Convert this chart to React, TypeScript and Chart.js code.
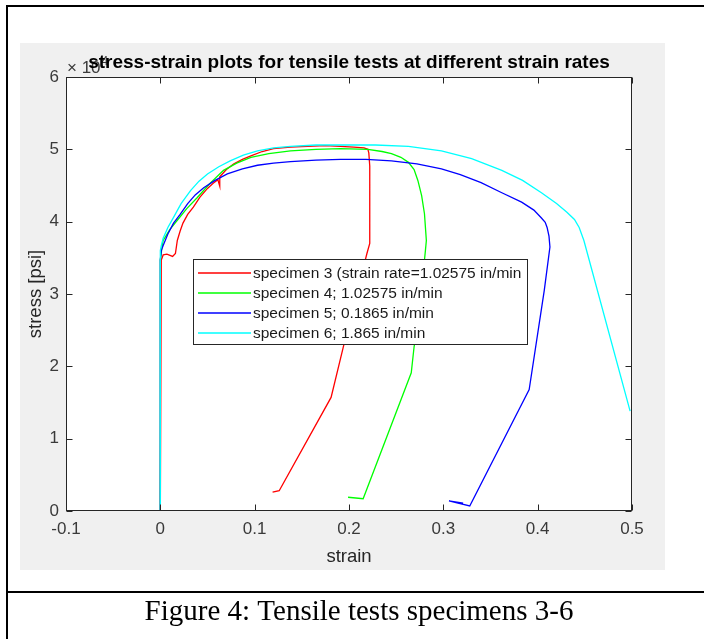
import React, { useEffect, useRef } from "react";
import { Chart, registerables } from "chart.js";
Chart.register(...registerables);

const W = 704;
const H = 639;

const chartTitle = "stress-strain plots for tensile tests at different strain rates";
const xAxisTitle = "strain";
const yAxisTitle = "stress [psi]";
const yExponentBase = "× 10";
const yExponent = "4";
const caption = "Figure 4: Tensile tests specimens 3-6";

const xTicks = [-0.1, 0, 0.1, 0.2, 0.3, 0.4, 0.5];
const xTickLabels = ["-0.1", "0", "0.1", "0.2", "0.3", "0.4", "0.5"];
const yTicks = [0, 1, 2, 3, 4, 5, 6];
const yTickLabels = ["0", "1", "2", "3", "4", "5", "6"];

const seriesLabels = [
  "specimen 3 (strain rate=1.02575 in/min",
  "specimen 4; 1.02575 in/min",
  "specimen 5; 0.1865 in/min",
  "specimen 6; 1.865 in/min",
];
const seriesColors = ["#ff0000", "#00ff00", "#0000ff", "#00ffff"];

// specimen 3
const strain3 = [0, 0.001, 0.003, 0.007, 0.013, 0.016, 0.018, 0.021, 0.024, 0.029, 0.035, 0.042, 0.050, 0.056, 0.061, 0.063, 0.063, 0.070, 0.078, 0.087, 0.096, 0.108, 0.120, 0.138, 0.156, 0.175, 0.191, 0.205, 0.216, 0.220, 0.221, 0.222, 0.222, 0.219, 0.194, 0.181, 0.126, 0.119];
const stress3 = [0, 3.47, 3.54, 3.55, 3.52, 3.56, 3.74, 3.87, 3.98, 4.10, 4.20, 4.34, 4.46, 4.53, 4.58, 4.49, 4.62, 4.72, 4.80, 4.86, 4.91, 4.97, 5.01, 5.03, 5.04, 5.05, 5.04, 5.03, 5.02, 5.00, 4.95, 4.77, 3.70, 3.56, 2.27, 1.57, 0.28, 0.26];

// specimen 4
const strain4 = [0, 0, 0.002, 0.003, 0.010, 0.018, 0.028, 0.039, 0.052, 0.067, 0.081, 0.096, 0.115, 0.138, 0.165, 0.191, 0.220, 0.235, 0.245, 0.255, 0.263, 0.269, 0.273, 0.277, 0.280, 0.282, 0.281, 0.280, 0.277, 0.269, 0.266, 0.215, 0.199];
const stress4 = [0, 3.47, 3.67, 3.74, 3.89, 4.02, 4.18, 4.33, 4.52, 4.71, 4.81, 4.89, 4.94, 4.98, 5.00, 5.01, 5.00, 4.97, 4.94, 4.89, 4.82, 4.72, 4.57, 4.36, 4.11, 3.74, 3.60, 3.47, 2.92, 2.27, 1.91, 0.17, 0.19];

// specimen 5
const strain5 = [0, 0, 0.001, 0.003, 0.008, 0.014, 0.021, 0.029, 0.037, 0.046, 0.058, 0.071, 0.087, 0.103, 0.120, 0.138, 0.165, 0.191, 0.218, 0.245, 0.272, 0.298, 0.318, 0.340, 0.362, 0.383, 0.396, 0.404, 0.408, 0.410, 0.412, 0.413, 0.407, 0.391, 0.328, 0.306, 0.321];
const stress5 = [0, 3.47, 3.60, 3.67, 3.83, 3.98, 4.10, 4.25, 4.37, 4.47, 4.57, 4.66, 4.73, 4.78, 4.81, 4.83, 4.85, 4.86, 4.86, 4.84, 4.80, 4.73, 4.65, 4.54, 4.40, 4.27, 4.16, 4.05, 3.99, 3.92, 3.80, 3.65, 3.05, 1.68, 0.07, 0.14, 0.11];

// specimen 6
const strain6 = [0, 0, 0.001, 0.003, 0.008, 0.014, 0.022, 0.032, 0.041, 0.050, 0.062, 0.074, 0.088, 0.103, 0.120, 0.138, 0.165, 0.191, 0.228, 0.263, 0.298, 0.330, 0.362, 0.384, 0.404, 0.420, 0.431, 0.439, 0.444, 0.449, 0.498];
const stress6 = [0, 3.60, 3.67, 3.77, 3.92, 4.06, 4.25, 4.43, 4.56, 4.66, 4.76, 4.84, 4.92, 4.98, 5.02, 5.04, 5.06, 5.06, 5.06, 5.04, 4.98, 4.87, 4.71, 4.57, 4.40, 4.25, 4.13, 4.03, 3.92, 3.74, 1.38];

const strainSeries = [strain3, strain4, strain5, strain6];
const stressSeries = [stress3, stress4, stress5, stress6];

const SANS = '"Liberation Sans", Arial, sans-serif';
const SERIF = '"Liberation Serif", "Times New Roman", serif';
const AXIS_COLOR = "#262626";
const TICK_COLOR = "#3a3a3a";

const framePlugin = {
  id: "framePlugin",
  beforeDraw(chart: any) {
    const ctx = chart.ctx as CanvasRenderingContext2D;
    const a = chart.chartArea;
    ctx.save();
    ctx.fillStyle = "#ffffff";
    ctx.fillRect(0, 0, W, H);
    // document frame
    ctx.fillStyle = "#000000";
    ctx.fillRect(6, 5, W - 6, 2);
    ctx.fillRect(6, 5, 2, H - 5);
    ctx.fillRect(6, 591, W - 6, 2);
    ctx.font = `29px ${SERIF}`;
    ctx.textAlign = "center";
    ctx.textBaseline = "alphabetic";
    ctx.fillText(caption, 359, 620);
    // figure background
    ctx.fillStyle = "#f0f0f0";
    ctx.fillRect(20, 43, 645, 527);
    ctx.fillStyle = "#ffffff";
    ctx.fillRect(a.left, a.top, a.right - a.left, a.bottom - a.top);
    ctx.restore();
  },
  afterDraw(chart: any) {
    const ctx = chart.ctx as CanvasRenderingContext2D;
    const a = chart.chartArea;
    const xs = chart.scales.x;
    const ys = chart.scales.y;
    ctx.save();
    // axes box
    const L = Math.round(a.left) + 0.5;
    const R = Math.round(a.right) - 0.5;
    const T = Math.round(a.top) + 0.5;
    const B = Math.round(a.bottom) - 0.5;
    ctx.strokeStyle = AXIS_COLOR;
    ctx.lineWidth = 1;
    ctx.strokeRect(L, T, R - L, B - T);
    // inner ticks
    const tl = 6;
    ctx.beginPath();
    for (const v of xTicks) {
      const px = Math.round(xs.getPixelForValue(v)) + 0.5;
      ctx.moveTo(px, B);
      ctx.lineTo(px, B - tl);
      ctx.moveTo(px, T);
      ctx.lineTo(px, T + tl);
    }
    for (const v of yTicks) {
      const py = Math.round(ys.getPixelForValue(v)) + 0.5;
      ctx.moveTo(L, py);
      ctx.lineTo(L + tl, py);
      ctx.moveTo(R, py);
      ctx.lineTo(R - tl, py);
    }
    ctx.stroke();

    // exponent label
    ctx.fillStyle = TICK_COLOR;
    ctx.font = `17px ${SANS}`;
    ctx.textAlign = "left";
    ctx.textBaseline = "alphabetic";
    ctx.fillText(yExponentBase, 67, 73);
    const bw = ctx.measureText(yExponentBase).width;
    ctx.font = `12px ${SANS}`;
    ctx.fillText(yExponent, 67 + bw + 1, 65);

    // title
    ctx.fillStyle = "#000000";
    ctx.font = `bold 19px ${SANS}`;
    ctx.textAlign = "center";
    ctx.fillText(chartTitle, (a.left + a.right) / 2, 68);

    // axis titles
    ctx.fillStyle = AXIS_COLOR;
    ctx.font = `18.5px ${SANS}`;
    ctx.fillText(xAxisTitle, (a.left + a.right) / 2, 562);
    ctx.save();
    ctx.translate(41, (a.top + a.bottom) / 2);
    ctx.rotate(-Math.PI / 2);
    ctx.textBaseline = "alphabetic";
    ctx.fillText(yAxisTitle, 0, 0);
    ctx.restore();

    // legend
    const lx = 193.5, ly = 259.5, lw = 334, lh = 85;
    ctx.fillStyle = "#ffffff";
    ctx.fillRect(lx, ly, lw, lh);
    ctx.strokeStyle = AXIS_COLOR;
    ctx.lineWidth = 1;
    ctx.strokeRect(lx, ly, lw, lh);
    ctx.font = `15.5px ${SANS}`;
    ctx.textAlign = "left";
    ctx.textBaseline = "middle";
    seriesLabels.forEach((label, i) => {
      const y = 273 + i * 20;
      ctx.strokeStyle = seriesColors[i];
      ctx.lineWidth = 1.3;
      ctx.beginPath();
      ctx.moveTo(198, y);
      ctx.lineTo(251, y);
      ctx.stroke();
      ctx.fillStyle = "#1a1a1a";
      ctx.fillText(label, 253, y + 1);
    });
    ctx.restore();
  },
};

export default function App() {
  const ref = useRef<HTMLCanvasElement>(null);
  useEffect(() => {
    const canvas = ref.current;
    if (!canvas) return;
    const datasets = seriesLabels.map((label, i) => ({
      label,
      data: strainSeries[i].map((x, j) => ({ x, y: stressSeries[i][j] })),
      borderColor: seriesColors[i],
      backgroundColor: seriesColors[i],
      borderWidth: 1.3,
      pointRadius: 0,
      showLine: true,
      fill: false,
      tension: 0,
      order: seriesLabels.length - 1 - i,
    }));
    const chart = new Chart(canvas, {
      type: "scatter",
      data: { datasets },
      options: {
        animation: false,
        responsive: false,
        devicePixelRatio: 1,
        events: [],
        layout: { padding: { left: 0, top: 77, right: 72, bottom: 0 } },
        plugins: { legend: { display: false }, title: { display: false }, tooltip: { enabled: false } },
        scales: {
          x: {
            type: "linear",
            min: -0.1,
            max: 0.5,
            grid: { display: false, drawTicks: false },
            border: { display: false },
            afterBuildTicks: (s: any) => { s.ticks = xTicks.map((v) => ({ value: v })); },
            afterFit: (s: any) => { s.height = 128; s.paddingLeft = 0; s.paddingRight = 0; },
            ticks: {
              autoSkip: false,
              maxRotation: 0,
              padding: 8,
              color: TICK_COLOR,
              font: { family: SANS, size: 17 },
              callback: (_v: any, i: number) => xTickLabels[i],
            },
          },
          y: {
            type: "linear",
            min: 0,
            max: 6,
            grid: { display: false, drawTicks: false },
            border: { display: false },
            afterBuildTicks: (s: any) => { s.ticks = yTicks.map((v) => ({ value: v })); },
            afterFit: (s: any) => { s.width = 66; s.paddingTop = 0; s.paddingBottom = 0; },
            ticks: {
              autoSkip: false,
              padding: 7,
              color: TICK_COLOR,
              font: { family: SANS, size: 17 },
              callback: (_v: any, i: number) => yTickLabels[i],
            },
          },
        },
      },
      plugins: [framePlugin],
    });
    return () => chart.destroy();
  }, []);
  return (
    <div style={{ position: "absolute", left: 0, top: 0, width: W, height: H }}>
      <canvas ref={ref} width={W} height={H} style={{ width: W, height: H, display: "block" }} />
    </div>
  );
}
